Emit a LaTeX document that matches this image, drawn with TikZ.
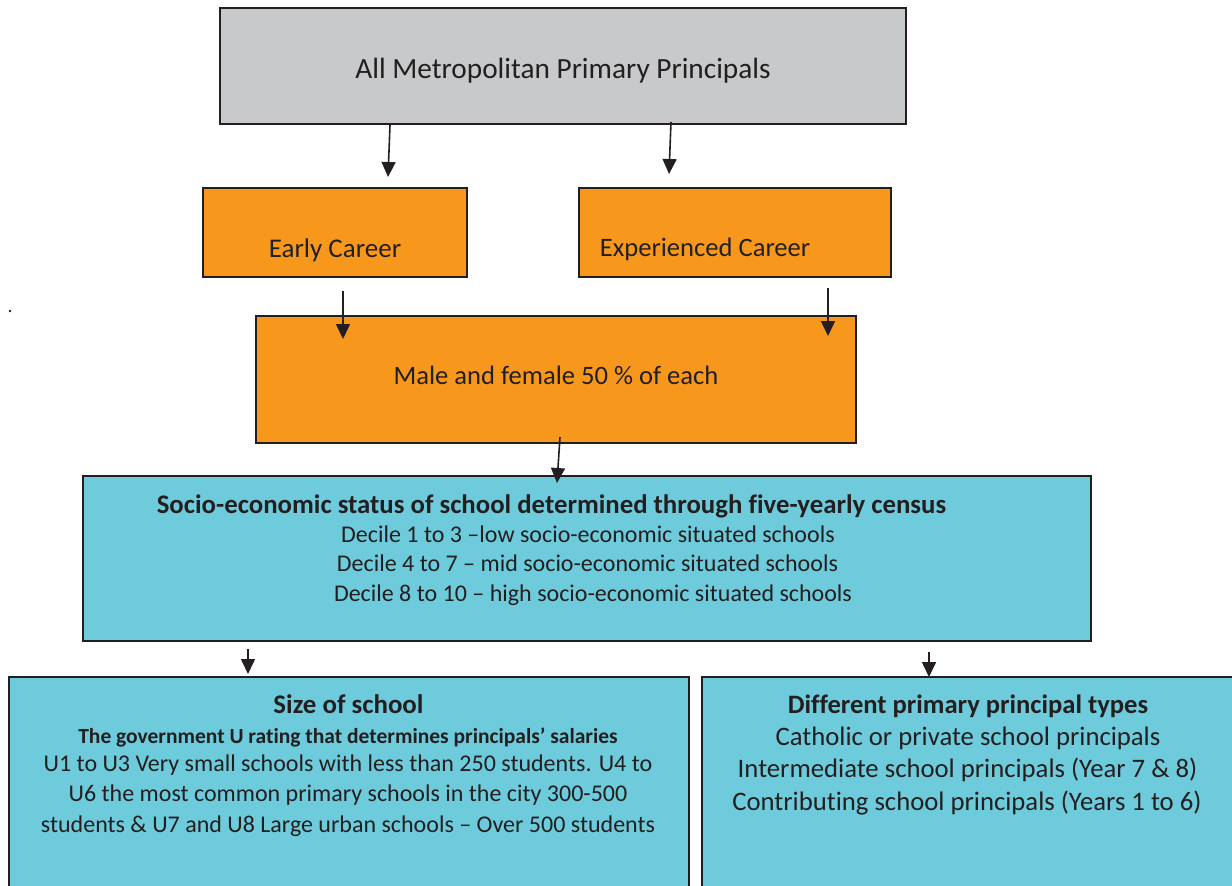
\documentclass[tikz,border=0pt]{standalone}
\usepackage{fontspec}
\setmainfont{Carlito}[RawFeature=-liga]
\usetikzlibrary{arrows.meta}
\definecolor{boxgray}{HTML}{C8C9CB}
\definecolor{boxorange}{HTML}{F7981D}
\definecolor{boxcyan}{HTML}{6DCBDC}
\definecolor{lineblack}{HTML}{231F20}
\tikzset{
  box/.style={draw=lineblack, line width=1.6pt},
  arr/.style={draw=lineblack, line width=1.6pt, -{Triangle[length=15pt,width=14pt]}},
  txt/.style={inner sep=0pt, anchor=base, text=lineblack},
}
\newcommand{\fs}[1]{\fontsize{#1}{#1}\selectfont}
\begin{document}
\begin{tikzpicture}[x=1pt,y=-1pt]
\useasboundingbox (0,0) rectangle (1232,886);
% boxes
\draw[box, fill=boxgray] (220,8) rectangle (906,124);
\draw[box, fill=boxorange] (203,188) rectangle (467,277);
\draw[box, fill=boxorange] (579,188) rectangle (891,277);
\draw[box, fill=boxorange] (256,316) rectangle (856,443);
\draw[box, fill=boxcyan] (83,476) rectangle (1091,641);
\draw[box, fill=boxcyan] (9,677) rectangle (689,900);
\draw[box, fill=boxcyan] (702,677) rectangle (1240,900);
% texts
\node[txt, font=\fs{29.3}] (all) at (563,78) {All Metropolitan Primary Principals};
\node[txt, font=\fs{27}] (early) at (335,257) {Early Career};
\node[txt, font=\fs{26.6}] (exp) at (705,256) {Experienced Career};
\node[txt, font=\fs{26.6}] (mf) at (556,384) {Male and female 50 \% of each};
\node[txt, font=\fs{26.8}\bfseries] (socT) at (551.5,513) {Socio-economic status of school determined through five-yearly census};
\node[txt, font=\fs{24}] (socA) at (588,542) {Decile 1 to 3 –low socio-economic situated schools};
\node[txt, font=\fs{24}] (socB) at (587.5,571.5) {Decile 4 to 7 – mid socio-economic situated schools};
\node[txt, font=\fs{24}] (socC) at (593,601) {Decile 8 to 10 – high socio-economic situated schools};
\node[txt, font=\fs{26.9}\bfseries] (sizeT) at (348.5,713) {Size of school};
\node[txt, font=\fs{21.5}\bfseries] (sizeS) at (348,743) {The government U rating that determines principals’ salaries};
\node[txt, font=\fs{24}] (sizeA) at (348,771) {U1 to U3 Very small schools with less than 250 students. U4 to};
\node[txt, font=\fs{24}] (sizeB) at (348,801.5) {U6 the most common primary schools in the city 300-500};
\node[txt, font=\fs{24}] (sizeC) at (348,832) {students \& U7 and U8 Large urban schools – Over 500 students};
\node[txt, font=\fs{26.6}\bfseries] (difT) at (968,713) {Different primary principal types};
\node[txt, font=\fs{26.7}] (difA) at (968,745) {Catholic or private school principals};
\node[txt, font=\fs{26.7}] (difB) at (967.5,777.5) {Intermediate school principals (Year 7 \& 8)};
\node[txt, font=\fs{26.7}] (difC) at (967,810) {Contributing school principals (Years 1 to 6)};
% dot
\fill[lineblack] (10,311) circle (1.3pt);
% arrow coordinates
\coordinate (a1s) at (390,125); \coordinate (a1e) at (388,177);
\coordinate (a2s) at (671,122); \coordinate (a2e) at (669,174);
\coordinate (a3s) at (343,291); \coordinate (a3e) at (343,339);
\coordinate (a4s) at (828,288); \coordinate (a4e) at (828,336);
\coordinate (a5s) at (560,437); \coordinate (a5e) at (557,483);
\coordinate (a6s) at (248,649); \coordinate (a6e) at (248,674);
\coordinate (a7s) at (929,652); \coordinate (a7e) at (929,677);
\draw[arr] (a1s) -- (a1e);
\draw[arr] (a2s) -- (a2e);
\draw[arr] (a3s) -- (a3e);
\draw[arr] (a4s) -- (a4e);
\draw[arr] (a5s) -- (a5e);
\draw[arr] (a6s) -- (a6e);
\draw[arr] (a7s) -- (a7e);
\end{tikzpicture}
\end{document}
